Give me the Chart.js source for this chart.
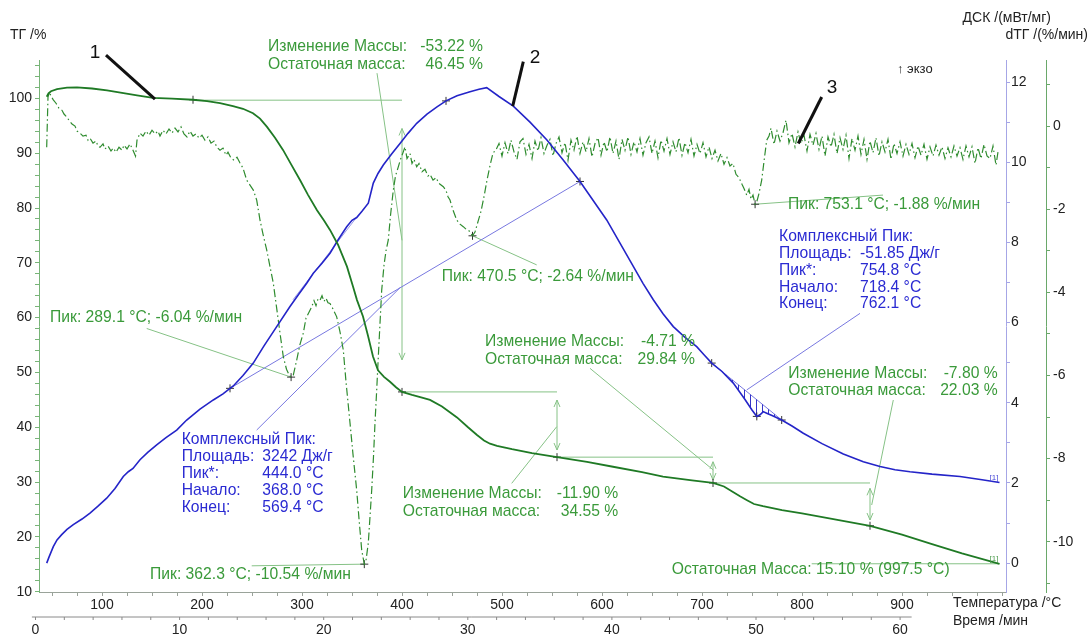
<!DOCTYPE html>
<html>
<head>
<meta charset="utf-8">
<script src="https://cdn.jsdelivr.net/npm/chart.js@4/dist/chart.umd.min.js"></script>
<style>
  html, body { margin: 0; padding: 0; background: #fff; }
  #wrap { width: 1089px; height: 637px; }
</style>
</head>
<body>
<div id="wrap"><canvas id="c" width="1089" height="637"></canvas></div>
<script>
// ---- Measured curves: [temperature °C, value] ----
const tgCurve = [
  [44.7,100.3],[46.5,100.9],[49,101.3],[55,101.7],[65,101.95],[75,102.0],[90,101.8],[105,101.45],
  [120,101.0],[135,100.55],[151,100.1],[170,99.95],[191,99.75],[205,99.5],[218,99.15],[231,98.6],
  [241,98.1],[251,97.3],[258,96.3],[265,94.8],[273,92.8],[281,90.6],[289,88.0],[298,85.1],[306,82.4],
  [315,79.6],[322,77.7],[328,76.0],[336,73.3],[345,69.3],[351,65.7],[355,63.2],[361,60.2],[366,56.7],
  [371,52.9],[376,50.4],[382,49.2],[388,48.3],[394,47.3],[400,46.45],[410,45.9],[420,45.4],[428,45.0],
  [440,43.8],[455,41.8],[466,40.0],[475,38.6],[482,37.6],[488,37.0],[495,36.6],[510,36.0],[530,35.3],
  [555,34.55],[585,33.7],[611,32.8],[640,31.8],[661,31.0],[690,30.3],[711,29.84],[722,29.2],[731,28.2],
  [738,27.4],[745,26.7],[752,26.0],[761,25.6],[780,24.9],[800,24.3],[830,23.3],[868,22.03],[900,20.4],
  [930,18.7],[960,17.0],[997.5,15.10]
];

const dscCurve = [
  [44.7,0.0],[47,0.15],[51.3,0.41],[55,0.58],[59.7,0.71],[65,0.84],[71.3,0.96],[80,1.10],[88,1.25],
  [96,1.42],[104.7,1.62],[113,1.86],[121.3,2.16],[126.3,2.28],[131,2.36],[138,2.58],[146,2.77],
  [154.7,2.95],[164,3.13],[174.7,3.32],[184.7,3.57],[198,3.84],[211.3,4.07],[221,4.22],[228,4.36],
  [231.3,4.42],[241,4.68],[251.3,4.99],[262,5.42],[274.7,5.90],[288,6.40],[296,6.68],[304.7,6.98],
  [311.3,7.23],[320,7.48],[328,7.73],[336,8.06],[344.7,8.39],[350,8.55],[354.7,8.62],[360,8.78],
  [366.3,8.98],[371.3,9.48],[376,9.72],[381.3,9.93],[390,10.22],[398,10.47],[406,10.72],[414.7,10.97],
  [425,11.2],[435,11.38],[444.0,11.53],[455,11.66],[468,11.76],[477,11.82],[484.7,11.86],[497,11.64],
  [511.3,11.40],[528,11.00],[544.7,10.56],[561,10.06],[578,9.52],[591,9.05],[604.7,8.56],[618,7.98],
  [631.3,7.40],[641,6.98],[651.3,6.57],[661,6.22],[671.3,5.90],[683,5.63],[694.7,5.40],[702,5.20],
  [709.7,4.99],[720,4.78],[731.3,4.49],[743,4.08],[750,3.82],[754.8,3.66],[758,3.70],[761.3,3.78],
  [764.7,3.74],[770,3.68],[779.7,3.57],[790,3.42],[801.3,3.24],[820,2.98],[841.3,2.72],[861.3,2.53],
  [878,2.41],[893,2.33],[908,2.28],[930,2.22],[958,2.16],[980,2.08],[997.5,2.01]
];

const dtgCurve = [
  [44.7,-0.51],[46,0.70],[47.5,0.82],[49,0.72],[51.3,0.63],[54,0.55],[57,0.43],[60,0.38],[62,0.29],
  [64.7,0.22],[67,0.14],[70,0.05],[73,0.0],[75,-0.12],[78,-0.17],[81,-0.24],[84,-0.22],[86,-0.34],
  [88,-0.29],[91,-0.41],[94,-0.36],[96,-0.48],[98,-0.51],[101,-0.43],[103,-0.55],[106,-0.48],[109,-0.60],
  [111.3,-0.53],[114,-0.63],[117,-0.51],[120,-0.58],[122,-0.46],[125,-0.55],[128,-0.43],[131,-0.58],
  [133.5,-0.72],[135,-0.34],[138,-0.17],[141,-0.24],[144,-0.12],[147,-0.22],[150,-0.10],[153,-0.19],
  [156,-0.12],[158,-0.24],[161,-0.10],[164,-0.19],[167,-0.07],[170,-0.17],[173,-0.05],[176,-0.14],
  [179,-0.02],[182,-0.19],[185,-0.26],[188,-0.12],[191,-0.24],[194,-0.19],[197,-0.29],[200,-0.22],
  [203,-0.34],[206,-0.26],[209,-0.41],[212,-0.36],[215,-0.51],[218,-0.58],[221,-0.53],[224,-0.70],
  [226,-0.63],[229,-0.77],[232,-0.82],[235,-0.75],[238,-0.89],[241,-1.01],[244.7,-1.30],[248,-1.42],
  [251.3,-1.54],[254.7,-1.78],[258,-2.26],[261,-2.60],[264.7,-2.98],[268,-3.38],[271.3,-3.78],
  [274.5,-4.35],[278,-4.98],[281.3,-5.55],[284.5,-5.85],[287,-5.98],[289.1,-6.04],[291.3,-5.99],
  [294.7,-5.63],[298,-5.25],[301.3,-4.98],[304,-4.62],[307,-4.48],[309.7,-4.35],[312,-4.20],[314,-4.32],
  [316,-4.16],[318,-4.19],[320,-4.08],[322,-4.22],[324,-4.14],[326,-4.25],[328,-4.27],[331,-4.40],
  [334.7,-4.59],[338,-4.95],[341.3,-5.39],[344,-6.15],[348,-7.14],[351,-7.90],[354.7,-8.76],[357,-9.45],
  [359.7,-10.2],[362.3,-10.54],[364,-10.45],[366.3,-10.03],[368,-9.40],[369.7,-8.76],[371.5,-7.95],
  [373,-7.14],[374.7,-6.35],[376.3,-5.55],[378,-4.75],[379.7,-3.95],[382,-3.35],[384,-3.00],[386.3,-2.74],
  [388.5,-2.15],[391.3,-1.54],[393.5,-1.20],[396.3,-0.98],[398.5,-0.80],[401.3,-0.62],[403,-0.50],
  [405,-0.78],[408,-0.66],[410,-0.90],[412,-0.80],[414.7,-0.98],[417,-0.90],[420,-1.10],[423,-1.04],
  [426,-1.20],[428,-1.16],[431,-1.30],[434,-1.24],[437,-1.38],[441.3,-1.46],[444,-1.55],[446,-1.70],
  [448,-1.78],[451,-2.02],[454.7,-2.26],[458,-2.36],[461.3,-2.42],[464,-2.48],[467,-2.52],[470.5,-2.64],
  [473,-2.55],[476,-2.30],[479,-2.05],[482,-1.70],[485,-1.30],[488,-0.95],[491,-0.65],[494,-0.57],
  [497,-0.42],[500,-0.72],[503,-0.40],[506,-0.66],[509,-0.34],[512,-0.62],[515,-0.80],[518,-0.38],
  [521,-0.30],[524,-0.68],[527,-0.44],[530,-0.78],[533,-0.36],[536,-0.60],[539,-0.28],[542,-0.66],
  [545,-0.46],[548,-0.32],[551,-0.72],[554,-0.42],[557,-0.26],[560,-0.64],[563,-0.40],[566,-0.82],
  [569,-0.34],[572,-0.58],[575,-0.24],[578,-0.66],[581,-0.38],[584,-0.62],[587,-0.30],[590,-0.74],
  [593,-0.42],[596,-0.28],[599,-0.70],[602,-0.38],[605,-0.62],[608,-0.26],[611,-0.66],[614,-0.36],
  [617,-0.80],[620,-0.32],[623,-0.58],[626,-0.26],[629,-0.68],[632,-0.38],[635,-0.62],[638,-0.30],
  [641,-0.70],[644,-0.40],[647,-0.26],[650,-0.66],[653,-0.36],[656,-0.76],[659,-0.34],[662,-0.60],
  [665,-0.30],[668,-0.68],[671,-0.38],[674,-0.62],[677,-0.28],[680,-0.70],[683,-0.40],[686,-0.64],
  [689,-0.32],[692,-0.72],[695,-0.44],[698,-0.66],[701,-0.40],[704,-0.74],[707,-0.50],[710,-0.78],
  [713,-0.58],[716,-0.84],[719,-0.66],[722,-0.92],[725,-0.76],[728,-0.96],[731,-0.90],[734,-1.16],
  [737,-1.24],[740,-1.40],[742,-1.50],[744.7,-1.66],[747,-1.52],[749,-1.76],[751,-1.66],[753.1,-1.88],
  [755,-1.80],[757,-1.62],[759.7,-1.30],[762,-0.85],[764.7,-0.34],[767,-0.24],[769,-0.05],[772,-0.44],
  [775,-0.12],[778,-0.36],[781,-0.16],[784,0.14],[787,-0.40],[790,-0.18],[793,-0.50],[796,-0.14],
  [799,-0.42],[802,-0.22],[805,-0.60],[808,-0.20],[811,-0.46],[814,-0.18],[817,-0.56],[820,-0.24],
  [823,-0.72],[826,-0.26],[829,-0.50],[832,-0.20],[835,-0.66],[838,-0.28],[841,-0.56],[844,-0.22],
  [847,-0.78],[850,-0.30],[853,-0.58],[856,-0.24],[859,-0.68],[862,-0.32],[865,-0.80],[868,-0.36],
  [871,-0.64],[874,-0.28],[877,-0.72],[880,-0.38],[883,-0.62],[886,-0.32],[889,-0.80],[892,-0.42],
  [895,-0.66],[898,-0.38],[901,-0.72],[904,-0.44],[907,-0.68],[910,-0.42],[913,-0.76],[916,-0.48],
  [919,-0.70],[922,-0.44],[925,-0.80],[928,-0.50],[931,-0.72],[934,-0.46],[937,-0.70],[940,-0.50],
  [943,-0.78],[946,-0.52],[949,-0.74],[952,-0.48],[955,-0.72],[958,-0.52],[961,-0.80],[964,-0.48],
  [967,-0.74],[970,-0.50],[973,-0.90],[976,-0.52],[979,-0.78],[982,-0.44],[985,-0.72],[988,-0.78],
  [991,-0.48],[994,-0.94],[996,-0.62]
];

// ---- Axis tick labels ----
const tempTickLabels = [100, 200, 300, 400, 500, 600, 700, 800, 900];
const timeTickLabels = [0, 10, 20, 30, 40, 50, 60];
const tgTickLabels = [10, 20, 30, 40, 50, 60, 70, 80, 90, 100];
const dscTickLabels = [0, 2, 4, 6, 8, 10, 12];
const dtgTickLabels = [-10, -8, -6, -4, -2, 0];

// ---- Evaluation results ----
const stepTemps = [191, 400, 555, 711, 868];            // °C where each mass step is read
const stepLevels = [99.67, 46.45, 34.55, 29.84, 22.03]; // TG level, %
const massChanges = [-53.22, -11.90, -4.71, -7.80];     // %
const residualMass = 15.10;
const finalTemp = 997.5;

const dtgPeakTemps = [289.1, 362.3, 470.5, 753.1];
const dtgPeakValues = [-6.04, -10.54, -2.64, -1.88];

const dscPeakArea = ['3242', '-51.85'];
const dscPeakTemp = [444.0, 754.8];
const dscOnset = [368.0, 718.4];
const dscEnd = [569.4, 762.1];
const dscBaselineTemps = [[228, 578], [709.7, 779.7]];

// Time axis: furnace programme (start temperature and heating rate)
const TIME_ZERO_C = 33.5;
const HEATING_RATE = 14.41; // K/min

// ---- Styling ----
const FONT = "'Liberation Sans', Arial, sans-serif";
const NOTE_SIZE = 15.7;
const GREEN_TXT = '#3a9a3a';
const BLUE_TXT = '#2a2ad2';
const TG_COLOR = '#1f7a25';
const DSC_COLOR = '#2424c8';
const DTG_COLOR = '#2f8c2f';
const NOTE_GREEN = '#86c286';
const NOTE_BLUE = '#7878e0';

// Label placement of the evaluation notes (in axis units)
const massNoteLayout = [
  { arrow: [94.5, 52.3], leader: [[375, 104.6], [400, 74.1]], text: [266, 109.36], right: 481 },
  { arrow: [44.97, 35.85], leader: [[509.7, 29.77], [554.7, 40.1]], text: [400.7, 27.82], right: 616.3 },
  { arrow: [33.71, 30.38], leader: [[588, 50.75], [711.3, 32.2]], text: [483, 55.6], right: 693 },
  { arrow: [28.86, 23.08], leader: [[891.3, 44.97], [869.7, 25.82]], text: [786.3, 49.84], right: 995.7 }
];
const dtgNoteLayout = [
  { text: [48, -4.62], leader: [144.7, -4.87] },
  { text: [148, -10.80], leader: [249.7, -10.58] },
  { text: [439.7, -3.63], leader: [534.7, -3.34] },
  { text: [786, -1.88], leader: [881, -1.66] }
];
const dscNoteLayout = [
  { text: [179.7, 3.07], valueX: 260.3, leader: [[254.7, 3.32], [398, 6.87]] },
  { text: [777, 8.14], valueX: 858, leader: [[858, 6.23], [744.7, 4.32]] }
];
const dscTangent = [[291, 6.57], [355, 8.64]];
const residualNote = { text: [669.7, 13.96], lineFrom: 809.7 };
const curveTags = [
  { text: '1', at: [93, 108.3], axis: 'yTG', leader: [[104, 107.9], [153, 99.88]] },
  { text: '2', at: [533, 12.6], axis: 'yDSC', leader: [[521.3, 12.51], [510.7, 11.40]] },
  { text: '3', at: [830, 0.91], axis: 'ydTG', leader: [[819.7, 0.70], [796.3, -0.42]] }
];

// ---- Helpers ----
const pts = arr => arr.map(p => ({ x: p[0], y: p[1] }));
const steps = (a, b, s) => { const o = []; for (let v = a; v <= b + 1e-9; v += s) o.push(Math.round(v * 100) / 100); return o; };
const pick = (curve, temps) => curve.filter(p => temps.some(t => Math.abs(t - p[0]) < 1e-6));

const tgMarks = pick(tgCurve, stepTemps);
const dscMarkTemps = [dscBaselineTemps[0][0], dscPeakTemp[0], dscBaselineTemps[0][1], dscBaselineTemps[1][0], dscPeakTemp[1], dscBaselineTemps[1][1]];
const dscMarks = pick(dscCurve, dscMarkTemps);
const dtgMarks = dtgPeakTemps.map((t, i) => [t, dtgPeakValues[i]]);
const base1 = pick(dscCurve, dscBaselineTemps[0]);
const base2 = pick(dscCurve, dscBaselineTemps[1]);
const hatchSeg = dscCurve.filter(p => p[0] >= dscBaselineTemps[1][0] && p[0] <= dscBaselineTemps[1][1]);

function hatchPattern() {
  const c = document.createElement('canvas');
  c.width = 6; c.height = 6;
  const g = c.getContext('2d');
  g.strokeStyle = '#3434c8'; g.lineWidth = 1;
  g.beginPath(); g.moveTo(0.5, 0); g.lineTo(0.5, 6); g.stroke();
  return g.createPattern(c, 'repeat');
}

function tickAxis(opts) {
  return {
    type: 'linear',
    position: opts.position,
    weight: opts.weight || 0,
    min: opts.min, max: opts.max,
    afterBuildTicks: s => { s.ticks = opts.minor.map(v => ({ value: v })); },
    afterFit: opts.fit,
    ticks: {
      autoSkip: false, maxRotation: 0, padding: opts.pad,
      color: '#222', font: { family: FONT, size: 14 },
      callback: v => opts.labels.includes(v) ? String(v) : ''
    },
    grid: { drawOnChartArea: false, drawTicks: true, tickLength: 4, color: opts.color, lineWidth: 1 },
    border: { display: true, color: opts.color, width: 1 }
  };
}

function line(ctx, a, b, color, w) {
  ctx.strokeStyle = color; ctx.lineWidth = w || 1;
  ctx.beginPath(); ctx.moveTo(a[0], a[1]); ctx.lineTo(b[0], b[1]); ctx.stroke();
}
function vArrow(ctx, x, yTop, yBot, color) {
  line(ctx, [x, yTop], [x, yBot], color, 1);
  ctx.beginPath();
  ctx.moveTo(x - 3, yTop + 7); ctx.lineTo(x, yTop); ctx.lineTo(x + 3, yTop + 7);
  ctx.moveTo(x - 3, yBot - 7); ctx.lineTo(x, yBot); ctx.lineTo(x + 3, yBot - 7);
  ctx.stroke();
}
function txt(ctx, s, x, y, color, size, align) {
  ctx.fillStyle = color;
  ctx.font = `${size}px ${FONT}`;
  ctx.textAlign = align || 'left';
  ctx.textBaseline = 'middle';
  ctx.fillText(s, x, y);
}

const notesPlugin = {
  id: 'notes',
  beforeDatasetsDraw(chart) {
    const ctx = chart.ctx;
    const X = t => chart.scales.x.getPixelForValue(t);
    const Y = (ax, v) => chart.scales[ax].getPixelForValue(v);
    ctx.save();
    // mass-loss steps: reference levels, double arrows, leaders
    massNoteLayout.forEach((n, i) => {
      const y0 = Y('yTG', stepLevels[i]);
      line(ctx, [X(stepTemps[i]), y0], [X(stepTemps[i + 1]), y0], NOTE_GREEN, 1);
      vArrow(ctx, X(stepTemps[i + 1]), Y('yTG', n.arrow[0]), Y('yTG', n.arrow[1]), NOTE_GREEN);
      line(ctx, [X(n.leader[0][0]), Y('yTG', n.leader[0][1])], [X(n.leader[1][0]), Y('yTG', n.leader[1][1])], NOTE_GREEN, 1);
    });
    // residual mass line
    const yr = Y('yTG', residualMass);
    line(ctx, [X(residualNote.lineFrom), yr], [X(finalTemp), yr], NOTE_GREEN, 1);
    // dTG peak leaders
    dtgNoteLayout.forEach((n, i) => {
      line(ctx, [X(n.leader[0]), Y('ydTG', n.leader[1])], [X(dtgPeakTemps[i]), Y('ydTG', dtgPeakValues[i])], NOTE_GREEN, 1);
    });
    // DSC leaders and tangent
    dscNoteLayout.forEach(n => {
      line(ctx, [X(n.leader[0][0]), Y('yDSC', n.leader[0][1])], [X(n.leader[1][0]), Y('yDSC', n.leader[1][1])], NOTE_BLUE, 1);
    });
    line(ctx, [X(dscTangent[0][0]), Y('yDSC', dscTangent[0][1])], [X(dscTangent[1][0]), Y('yDSC', dscTangent[1][1])], '#9a9ae8', 1);
    ctx.restore();
  },
  afterDatasetsDraw(chart) {
    const ctx = chart.ctx;
    const area = chart.chartArea;
    const X = t => chart.scales.x.getPixelForValue(t);
    const Y = (ax, v) => chart.scales[ax].getPixelForValue(v);
    ctx.save();

    // mass-change texts
    massNoteLayout.forEach((n, i) => {
      const x = X(n.text[0]), y = Y('yTG', n.text[1]), xr = X(n.right);
      txt(ctx, 'Изменение Массы:', x, y, GREEN_TXT, NOTE_SIZE);
      txt(ctx, massChanges[i].toFixed(2) + ' %', xr, y, GREEN_TXT, NOTE_SIZE, 'right');
      txt(ctx, 'Остаточная масса:', x, y + 17.5, GREEN_TXT, NOTE_SIZE);
      txt(ctx, stepLevels[i + 1].toFixed(2) + ' %', xr, y + 17.5, GREEN_TXT, NOTE_SIZE, 'right');
    });
    txt(ctx, `Остаточная Масса: ${residualMass.toFixed(2)} % (${finalTemp.toFixed(1)} °C)`,
        X(residualNote.text[0]), Y('yTG', residualNote.text[1]), GREEN_TXT, NOTE_SIZE);

    // dTG peaks
    dtgNoteLayout.forEach((n, i) => {
      txt(ctx, `Пик: ${dtgPeakTemps[i].toFixed(1)} °C; ${dtgPeakValues[i].toFixed(2)} %/мин`,
          X(n.text[0]), Y('ydTG', n.text[1]), GREEN_TXT, NOTE_SIZE);
    });

    // DSC complex peaks
    dscNoteLayout.forEach((n, i) => {
      const x = X(n.text[0]), y = Y('yDSC', n.text[1]), xv = X(n.valueX), dy = 16.8;
      const rows = [
        ['Комплексный Пик:', ''],
        ['Площадь:', dscPeakArea[i] + ' Дж/г'],
        ['Пик*:', dscPeakTemp[i].toFixed(1) + ' °C'],
        ['Начало:', dscOnset[i].toFixed(1) + ' °C'],
        ['Конец:', dscEnd[i].toFixed(1) + ' °C']
      ];
      rows.forEach((r, k) => {
        txt(ctx, r[0], x, y + k * dy, BLUE_TXT, NOTE_SIZE);
        if (r[1]) txt(ctx, r[1], xv, y + k * dy, BLUE_TXT, NOTE_SIZE);
      });
    });

    // curve numbers
    curveTags.forEach(c => {
      line(ctx, [X(c.leader[0][0]), Y(c.axis, c.leader[0][1])], [X(c.leader[1][0]), Y(c.axis, c.leader[1][1])], '#111', 3);
      txt(ctx, c.text, X(c.at[0]), Y(c.axis, c.at[1]), '#111', 19, 'center');
    });

    // end-of-curve tags
    const lastDsc = dscCurve[dscCurve.length - 1], lastTg = tgCurve[tgCurve.length - 1];
    txt(ctx, '[1]', X(lastDsc[0]) - 1, Y('yDSC', lastDsc[1]) - 5, '#4a4ad8', 8, 'right');
    txt(ctx, '[1]', X(lastTg[0]) - 1, Y('yTG', lastTg[1]) - 5, '#4a9a4a', 8, 'right');

    // exo direction
    txt(ctx, '↑ экзо', area.right - 109, area.top + 9, '#222', 13);

    // axis titles
    txt(ctx, 'ТГ /%', area.left - 29, area.top - 25, '#222', 14);
    txt(ctx, 'ДСК /(мВт/мг)', 1051, 18, '#222', 14, 'right');
    txt(ctx, 'dТГ /(%/мин)', 1088, 35, '#222', 14, 'right');
    txt(ctx, 'Температура /°C', area.right - 53, area.bottom + 11, '#222', 14);
    txt(ctx, 'Время /мин', area.right - 53, area.bottom + 29, '#222', 14);

    // time axis (derived from the temperature programme)
    const tx = t => X(TIME_ZERO_C + HEATING_RATE * t);
    const yt = area.bottom + 25;
    line(ctx, [tx(-0.25), yt], [tx(60.8), yt], '#8a8a8a', 1);
    steps(0, 60, 2).forEach(t => line(ctx, [tx(t), yt], [tx(t), yt + 3], '#8a8a8a', 1));
    timeTickLabels.forEach(t => txt(ctx, String(t), tx(t), yt + 13, '#222', 14, 'center'));
    ctx.restore();
  }
};

const ds = (data, axis, extra) => Object.assign({
  data: pts(data), yAxisID: axis, showLine: true, pointRadius: 0, tension: 0, fill: false
}, extra);

new Chart(document.getElementById('c'), {
  type: 'scatter',
  data: {
    datasets: [
      ds(tgCurve, 'yTG', { borderColor: TG_COLOR, borderWidth: 1.8 }),
      ds(dscCurve, 'yDSC', { borderColor: DSC_COLOR, borderWidth: 1.6 }),
      ds(dtgCurve, 'ydTG', { borderColor: DTG_COLOR, borderWidth: 1.2, borderDash: [8, 3, 1.5, 3] }),
      ds(tgMarks, 'yTG', { showLine: false, pointRadius: 4, pointStyle: 'cross', borderColor: '#333', borderWidth: 1 }),
      ds(dscMarks, 'yDSC', { showLine: false, pointRadius: 4, pointStyle: 'cross', borderColor: '#333', borderWidth: 1 }),
      ds(dtgMarks, 'ydTG', { showLine: false, pointRadius: 4, pointStyle: 'cross', borderColor: '#333', borderWidth: 1 }),
      ds(hatchSeg, 'yDSC', { borderWidth: 0, borderColor: 'rgba(0,0,0,0)', fill: 7, backgroundColor: hatchPattern() }),
      ds(base2, 'yDSC', { borderColor: NOTE_BLUE, borderWidth: 1 }),
      ds(base1, 'yDSC', { borderColor: NOTE_BLUE, borderWidth: 1 })
    ]
  },
  options: {
    responsive: false,
    devicePixelRatio: 1,
    animation: false,
    events: [],
    layout: { padding: { top: 60, left: 0, right: 0, bottom: 0 } },
    plugins: { legend: { display: false }, tooltip: { enabled: false } },
    scales: {
      x: tickAxis({ position: 'bottom', min: 37, max: 1004, minor: steps(50, 1000, 25), labels: tempTickLabels,
                    color: '#9aa39a', pad: 1, fit: s => { s.height = 45; } }),
      yTG: tickAxis({ position: 'left', min: 9.95, max: 107, minor: steps(10, 106, 2), labels: tgTickLabels,
                      color: '#78b478', pad: 3, fit: s => { s.width = 39; } }),
      yDSC: tickAxis({ position: 'right', weight: 0, min: -0.72, max: 12.55, minor: steps(0, 12, 1), labels: dscTickLabels,
                       color: '#a6a6e6', pad: 1, fit: s => { s.width = 40; } }),
      ydTG: tickAxis({ position: 'right', weight: 1, min: -11.21, max: 1.59, minor: steps(-11, 1, 1), labels: dtgTickLabels,
                       color: '#6aa86a', pad: 3, fit: s => { s.width = 43; } })
    }
  },
  plugins: [notesPlugin]
});
</script>
</body>
</html>
